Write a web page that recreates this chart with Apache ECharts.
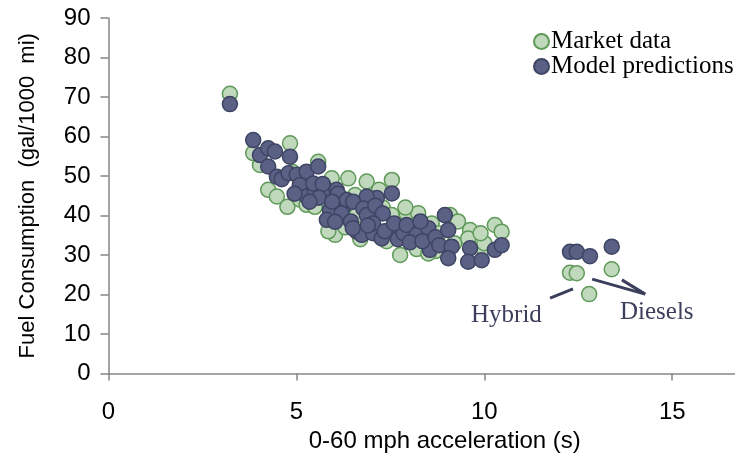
<!DOCTYPE html>
<html>
<head>
<meta charset="utf-8">
<script src="https://cdn.jsdelivr.net/npm/echarts@6/dist/echarts.min.js"></script>
<style>html,body{margin:0;padding:0;background:#fff}#c{width:735px;height:468px}</style>
</head>
<body>
<div id="c"></div>
<script>
// Market data [acceleration s, gal/1000 mi]
const marketData = [
  [3.23,70.8],[3.85,55.8],[4.83,58.3],[4.03,52.8],[4.25,46.5],[4.48,44.8],[4.76,42.2],[5.58,53.6],
  [4.9,51.0],[5.15,50.0],[5.4,47.0],[5.1,44.0],[5.7,45.0],[5.95,41.0],[6.2,44.5],[5.94,49.4],
  [6.38,49.4],[6.87,48.6],[7.54,49.0],[7.2,46.5],[6.56,45.2],[6.9,43.0],[7.3,42.0],[6.6,40.0],
  [5.27,42.7],[5.49,42.2],[6.03,35.1],[6.3,37.0],[5.85,36.0],[7.0,36.0],[6.7,34.0],[7.4,33.5],
  [7.54,40.1],[7.93,40.6],[8.24,40.6],[7.9,42.0],[7.7,36.5],[8.0,35.0],[8.3,32.5],[8.6,38.0],
  [8.8,35.5],[9.09,40.1],[9.3,38.5],[9.2,33.0],[8.2,31.5],[8.7,31.0],[7.76,30.0],[8.51,30.4],
  [9.62,36.3],[9.57,34.2],[9.97,31.7],[10.0,33.0],[9.9,35.5],[10.28,37.6],[10.46,35.9],
  [12.28,25.5],[12.46,25.4],[12.79,20.1],[13.39,26.4]
];
// Model predictions
const modelData = [
  [3.23,68.2],
  [3.85,59.1],[4.03,55.3],[4.25,57.0],[4.43,56.2],[4.25,52.4],[4.83,54.9],
  [4.48,49.8],[4.61,49.2],[4.79,50.7],[5.01,50.3],[5.27,51.1],[5.58,52.4],
  [5.09,47.7],[5.27,44.8],[5.49,46.0],[5.45,48.1],[5.81,46.5],[6.07,46.5],[5.7,48.0],[6.1,45.5],
  [7.54,45.6],[7.14,44.4],[6.87,44.8],[5.89,41.4],[6.25,42.2],[6.34,43.9],[6.51,43.5],[6.78,41.8],[6.87,40.1],
  [5.6,44.5],[5.95,43.5],[6.2,40.5],[6.45,38.5],[5.35,43.5],[4.95,45.5],[7.1,42.5],[7.3,40.5],
  [5.81,38.9],[6.03,38.4],[6.61,35.9],[6.74,35.1],[7.04,35.5],[7.27,34.2],[7.04,38.0],[7.54,36.8],
  [6.9,37.5],[7.35,36.0],[7.7,34.0],[7.85,35.5],[7.6,38.0],[6.5,36.8],
  [7.93,37.6],[8.20,35.1],[8.51,36.8],[8.55,31.3],[8.02,33.2],[8.35,33.5],[8.7,34.5],[8.3,38.5],[8.8,32.5],
  [8.95,40.1],[9.04,36.3],[9.13,32.1],[9.04,29.2],
  [9.62,31.7],[9.57,28.3],[9.93,28.7],[10.28,31.3],[10.46,32.5],
  [12.28,30.8],[12.46,30.8],[12.81,29.7],[13.39,32.1]
];
const xTicks = [0, 5, 10, 15];
const yTicks = [0, 10, 20, 30, 40, 50, 60, 70, 80, 90];
const hybridLine = [[11.75,19.1],[12.36,21.4]];
const dieselLines = [[[12.87,23.9],[14.28,20.1]],[[13.66,23.7],[14.28,20.1]]];

const chart = echarts.init(document.getElementById('c'), null, {renderer:'canvas'});
const axisColor = '#868686';
const sans = 'Liberation Sans';
const serif = 'Liberation Serif';
const annColor = '#3b3f5c';

const lineData = [
  [{coord: hybridLine[0]}, {coord: hybridLine[1]}],
  ...dieselLines.map(l => [{coord: l[0]}, {coord: l[1]}])
];

chart.setOption({
  animation: false,
  grid: {left: 108.5, right: 0, top: 18, bottom: 94.5, containLabel: false},
  xAxis: {
    type: 'value', min: 0, max: 16.67, interval: 5,
    name: '0-60 mph acceleration (s)', nameLocation: 'middle', nameGap: 55,
    nameTextStyle: {fontFamily: sans, fontSize: 24, color: '#000', padding: [0,0,0,46]},
    axisLine: {show: true, lineStyle: {color: axisColor, width: 1.5}},
    axisTick: {show: true, length: 7, lineStyle: {color: axisColor, width: 1.5}},
    axisLabel: {fontFamily: sans, fontSize: 24, color: '#000', margin: 27, showMaxLabel: false,
      formatter: v => xTicks.includes(v) ? String(v) : ''},
    splitLine: {show: false}
  },
  yAxis: {
    type: 'value', min: 0, max: 90, interval: 10,
    name: 'Fuel Consumption  (gal/1000  mi)', nameLocation: 'middle', nameGap: 70, nameRotate: 90,
    nameTextStyle: {fontFamily: sans, fontSize: 22, color: '#000'},
    axisLine: {show: true, lineStyle: {color: axisColor, width: 1.5}},
    axisTick: {show: true, length: 8, lineStyle: {color: axisColor, width: 1.5}},
    axisLabel: {fontFamily: sans, fontSize: 24, color: '#000', margin: 18,
      formatter: v => yTicks.includes(v) ? String(v) : ''},
    splitLine: {show: false}
  },
  legend: {
    orient: 'vertical', left: 528, top: 24, itemGap: 0,
    itemWidth: 15, itemHeight: 15, icon: 'circle',
    textStyle: {fontFamily: serif, fontSize: 25, lineHeight: 24, color: '#000', padding: [0,0,0,-3]},
    data: ['Market data', 'Model predictions']
  },
  series: [
    {
      name: 'Market data', type: 'scatter', symbolSize: 15, data: marketData,
      itemStyle: {color: '#c0d8bc', borderColor: '#5e9a58', borderWidth: 1.5, opacity: 1}
    },
    {
      name: 'Model predictions', type: 'scatter', symbolSize: 15, data: modelData,
      itemStyle: {color: '#5b6185', borderColor: '#3e4463', borderWidth: 1.5, opacity: 1},
      markLine: {
        silent: true, symbol: 'none', animation: false,
        lineStyle: {color: annColor, width: 3, type: 'solid'},
        label: {show: false},
        data: lineData
      }
    }
  ],
  graphic: [
    {type: 'text', left: 471, top: 303, style: {text: 'Hybrid', fontFamily: serif, fontSize: 25, fill: annColor}},
    {type: 'text', left: 620, top: 300, style: {text: 'Diesels', fontFamily: serif, fontSize: 25, fill: annColor}}
  ]
});
</script>
</body>
</html>
